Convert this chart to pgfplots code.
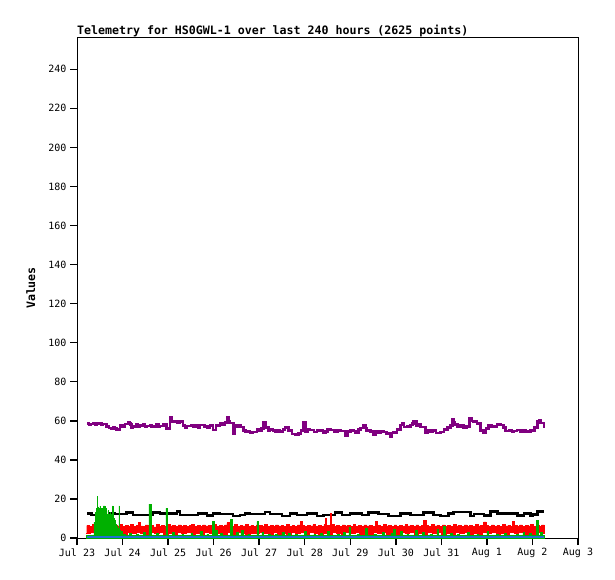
\documentclass[border=0pt]{standalone}
\usepackage{pgfplots}
\pgfplotsset{compat=1.18}
\usepackage{fontspec}
\setmainfont{DejaVu Sans Mono}
\definecolor{cpurple}{RGB}{128,0,128}
\definecolor{cred}{RGB}{255,0,0}
\definecolor{cgreen}{RGB}{0,176,0}
\definecolor{cblue}{RGB}{32,112,208}
\begin{document}
\begin{tikzpicture}
\begin{axis}[
  at={(77pt,41pt)}, anchor=south west,
  scale only axis, width=501pt, height=500pt,
  xmin=0, xmax=11, ymin=0, ymax=256,
  axis line style={line width=1pt},
  xtick={0,1,2,3,4,5,6,7,8,9,10,11},
  xticklabels={Jul 23,Jul 24,Jul 25,Jul 26,Jul 27,Jul 28,Jul 29,Jul 30,Jul 31,Aug 1,Aug 2,Aug 3},
  ytick={0,20,40,60,80,100,120,140,160,180,200,220,240},
  tick pos=left, tick align=outside,
  major tick length=7pt,
  xtick style={draw=black, line width=1.4pt},
  ytick style={draw=black, line width=1.4pt},
  /pgf/number format/assume math mode=true,
  tick label style={font=\fontsize{10}{12}\selectfont},
  title={Telemetry for HS0GWL-1 over last 240 hours (2625 points)},
  title style={at={(axis description cs:0,1)}, anchor=base west, yshift=-3pt, font=\fontsize{11.6}{13}\selectfont\bfseries, inner sep=0pt},
  ylabel={Values},
  every axis y label/.style={at={(axis description cs:-0.092,0.5)}, rotate=90, anchor=center, font=\fontsize{11.6}{13}\selectfont\bfseries},
]
% black
\addplot[const plot, black, line width=2.4pt] coordinates {
(0.22,12.6) (0.32,11.8) (0.43,12.3) (0.59,11.8) (0.72,12.6) (0.83,12.3) (1.09,13.0) (1.23,11.9) (1.67,13.0) (1.82,12.6) (2.19,13.6) (2.26,11.8) (2.66,12.6) (2.85,11.6) (2.99,12.6) (3.14,12.3) (3.43,11.3) (3.58,11.8) (3.69,12.6) (3.80,12.3) (4.13,13.3) (4.24,12.3) (4.50,11.4) (4.68,12.6) (4.83,11.9) (5.05,12.6) (5.27,11.4) (5.41,11.9) (5.67,13.0) (5.82,11.8) (6.00,12.6) (6.26,11.9) (6.40,13.0) (6.62,12.3) (6.84,11.3) (7.10,12.6) (7.32,11.9) (7.61,13.0) (7.83,11.9) (7.98,11.3) (8.16,12.6) (8.27,13.3) (8.64,11.3) (8.71,12.3) (8.93,11.6) (9.08,13.6) (9.23,12.6) (9.67,11.6) (9.81,12.6) (9.96,11.2) (10.00,12.1) (10.11,13.6) (10.25,13.6)
};
% purple
\addplot[const plot, cpurple, line width=2.6pt] coordinates {
(0.22,58.7) (0.26,58.0) (0.30,58.4) (0.36,58.9) (0.40,58.2) (0.43,58.6) (0.50,58.8) (0.54,58.0) (0.57,58.3) (0.65,57.0) (0.70,56.3) (0.76,55.8) (0.79,56.6) (0.82,56.0) (0.87,55.6) (0.94,57.8) (1.00,57.2) (1.05,58.3) (1.12,59.3) (1.15,58.6) (1.17,58.0) (1.20,56.5) (1.23,57.0) (1.30,58.0) (1.34,57.0) (1.38,57.5) (1.45,58.2) (1.49,56.9) (1.52,57.3) (1.60,57.8) (1.64,56.8) (1.68,57.0) (1.75,58.0) (1.79,57.0) (1.82,57.4) (1.90,58.4) (1.97,56.0) (2.04,61.8) (2.08,59.5) (2.15,59.8) (2.20,59.0) (2.26,59.5) (2.33,57.5) (2.37,56.6) (2.41,57.3) (2.50,57.8) (2.56,57.0) (2.63,57.5) (2.67,56.5) (2.70,57.8) (2.80,57.2) (2.86,56.6) (2.92,57.5) (2.99,55.3) (3.05,57.5) (3.14,58.5) (3.20,58.0) (3.25,59.0) (3.30,61.8) (3.33,60.0) (3.36,58.8) (3.43,53.5) (3.46,57.5) (3.50,56.8) (3.54,57.5) (3.60,56.8) (3.65,55.0) (3.70,54.5) (3.76,54.6) (3.80,53.8) (3.85,54.2) (3.95,55.5) (4.00,54.8) (4.05,56.0) (4.09,59.0) (4.14,56.5) (4.20,55.0) (4.24,55.5) (4.30,55.0) (4.35,54.2) (4.39,55.3) (4.45,54.5) (4.52,55.5) (4.57,56.5) (4.65,55.0) (4.72,53.2) (4.80,52.8) (4.86,53.5) (4.92,55.0) (4.97,59.0) (5.02,54.5) (5.06,55.8) (5.12,55.2) (5.20,54.2) (5.27,55.0) (5.34,55.0) (5.40,54.0) (5.45,54.5) (5.50,55.5) (5.56,55.3) (5.65,54.4) (5.72,55.2) (5.78,54.8) (5.89,52.6) (5.95,54.5) (6.01,55.2) (6.07,54.8) (6.12,54.0) (6.18,55.5) (6.23,56.4) (6.29,57.8) (6.33,56.3) (6.36,55.0) (6.44,54.6) (6.51,52.8) (6.56,54.5) (6.60,54.0) (6.67,54.8) (6.73,54.2) (6.80,53.5) (6.88,51.8) (6.92,53.8) (6.95,54.0) (7.03,55.5) (7.10,57.8) (7.14,58.8) (7.18,56.8) (7.25,57.0) (7.32,57.8) (7.36,58.5) (7.39,59.5) (7.46,57.5) (7.50,58.4) (7.54,56.8) (7.65,54.0) (7.70,55.0) (7.76,54.2) (7.82,55.0) (7.88,53.8) (7.98,54.2) (8.06,55.5) (8.13,56.7) (8.20,57.5) (8.24,61.0) (8.27,59.0) (8.30,58.0) (8.35,57.0) (8.42,57.8) (8.49,56.3) (8.55,57.0) (8.62,61.4) (8.66,60.0) (8.71,59.6) (8.78,58.5) (8.86,55.0) (8.93,54.0) (8.98,56.0) (9.04,57.8) (9.10,56.8) (9.15,57.0) (9.22,58.2) (9.30,57.8) (9.36,56.5) (9.41,54.8) (9.50,55.0) (9.55,54.2) (9.59,54.8) (9.66,55.2) (9.74,54.2) (9.80,54.9) (9.85,54.5) (9.96,55.0) (10.05,56.5) (10.11,59.5) (10.15,60.3) (10.18,58.8) (10.25,56.3)
};
% red band: upper envelope then lower envelope back
\addplot[const plot, cred, fill=cred, line width=0.6pt] coordinates {
(0.21,6.4) (0.28,5.8) (0.34,6.9) (0.40,6.1) (0.46,6.7) (0.52,5.7) (0.58,6.6) (0.64,6.0) (0.70,6.9) (0.76,5.9) (0.82,6.5) (0.88,6.2) (0.94,7.0) (1.00,5.8) (1.06,6.4) (1.12,6.1) (1.18,6.8) (1.24,5.9) (1.30,6.3) (1.34,7.8) (1.38,6.2) (1.44,5.8) (1.50,6.7) (1.56,6.0) (1.62,6.5) (1.68,5.7) (1.74,6.8) (1.80,6.1) (1.86,6.6) (1.92,5.8) (1.98,6.9) (2.04,6.2) (2.10,6.5) (2.16,5.9) (2.22,6.7) (2.28,6.0) (2.34,6.6) (2.40,5.8) (2.46,6.4) (2.52,6.9) (2.58,6.1) (2.64,6.5) (2.70,5.8) (2.76,6.7) (2.82,6.2) (2.88,6.6) (2.94,5.9) (3.00,6.8) (3.06,6.1) (3.12,6.4) (3.18,5.8) (3.24,6.7) (3.29,7.8) (3.34,6.3) (3.40,6.0) (3.46,6.8) (3.52,5.9) (3.58,6.5) (3.64,6.2) (3.70,6.9) (3.76,5.8) (3.82,6.6) (3.88,6.0) (3.94,6.7) (4.00,6.3) (4.06,5.9) (4.12,6.8) (4.18,6.1) (4.24,6.5) (4.30,5.8) (4.36,6.7) (4.42,6.2) (4.48,6.6) (4.54,5.9) (4.60,6.9) (4.66,6.1) (4.72,6.4) (4.78,6.0) (4.84,6.7) (4.90,8.5) (4.94,6.3) (5.00,5.9) (5.06,6.6) (5.12,6.2) (5.18,6.8) (5.24,5.9) (5.30,6.5) (5.36,6.1) (5.42,6.9) (5.45,10.0) (5.48,6.4) (5.53,6.2) (5.56,12.5) (5.58,6.8) (5.64,6.0) (5.70,6.5) (5.76,5.8) (5.82,6.7) (5.88,6.2) (5.94,6.6) (6.00,5.9) (6.06,6.8) (6.12,6.1) (6.18,6.4) (6.24,5.8) (6.30,6.7) (6.36,6.2) (6.42,6.6) (6.48,5.9) (6.55,8.5) (6.60,6.3) (6.66,6.0) (6.72,6.8) (6.78,6.2) (6.84,6.5) (6.90,5.9) (6.96,6.7) (7.02,6.1) (7.08,6.6) (7.14,5.9) (7.20,6.8) (7.26,6.2) (7.32,6.5) (7.38,5.8) (7.44,6.7) (7.50,6.1) (7.56,6.6) (7.61,8.9) (7.66,6.3) (7.72,6.0) (7.78,6.8) (7.84,6.2) (7.90,6.5) (7.96,5.9) (8.02,6.7) (8.08,6.1) (8.14,6.6) (8.20,5.9) (8.26,6.8) (8.32,6.2) (8.38,6.5) (8.44,5.8) (8.50,6.7) (8.56,6.1) (8.62,6.6) (8.68,6.0) (8.74,6.9) (8.80,6.2) (8.86,6.5) (8.93,8.2) (8.98,6.3) (9.04,5.9) (9.10,6.7) (9.16,6.1) (9.22,6.6) (9.28,5.9) (9.34,6.8) (9.40,6.2) (9.46,6.5) (9.52,6.0) (9.56,8.3) (9.60,6.4) (9.66,6.1) (9.72,6.7) (9.78,5.9) (9.84,6.6) (9.90,6.2) (9.96,6.8) (10.02,6.0) (10.08,6.5) (10.14,6.1) (10.20,6.7) (10.26,6.3)
(10.26,2.3) (10.20,2.7) (10.10,1.9) (10.00,2.6) (9.90,2.1) (9.80,3.0) (9.70,2.2) (9.60,2.7) (9.50,1.8) (9.40,2.6) (9.30,2.1) (9.20,2.9) (9.10,2.3) (9.00,2.8) (8.90,1.8) (8.80,2.6) (8.70,2.0) (8.60,2.9) (8.50,2.2) (8.40,2.7) (8.30,1.8) (8.20,2.6) (8.10,2.1) (8.00,3.0) (7.90,2.3) (7.80,2.8) (7.70,1.7) (7.60,2.6) (7.50,2.0) (7.40,2.9) (7.30,2.2) (7.20,2.8) (7.10,1.8) (7.00,2.6) (6.90,2.1) (6.80,3.0) (6.70,2.3) (6.60,2.7) (6.50,1.8) (6.40,2.6) (6.30,2.0) (6.20,2.9) (6.10,2.2) (6.00,2.8) (5.90,1.9) (5.80,2.4) (5.70,3.0) (5.60,2.1) (5.50,2.6) (5.40,1.7) (5.30,2.2) (5.20,2.8) (5.10,2.0) (5.00,2.7) (4.90,2.3) (4.80,2.9) (4.70,1.8) (4.60,2.6) (4.50,2.1) (4.40,2.8) (4.30,1.9) (4.20,2.4) (4.10,3.0) (4.00,2.2) (3.90,2.6) (3.80,1.7) (3.70,2.3) (3.60,2.9) (3.50,2.1) (3.40,2.7) (3.30,1.8) (3.20,2.4) (3.10,3.0) (3.00,2.2) (2.90,2.7) (2.80,1.8) (2.70,2.6) (2.60,2.1) (2.50,3.0) (2.40,2.3) (2.30,2.8) (2.20,1.7) (2.10,2.6) (2.00,2.0) (1.90,2.9) (1.80,2.2) (1.70,2.8) (1.60,1.8) (1.50,2.4) (1.40,3.1) (1.30,2.2) (1.20,2.7) (1.10,1.7) (1.00,2.3) (0.90,3.0) (0.80,2.1) (0.70,2.6) (0.60,1.8) (0.50,2.4) (0.40,3.0) (0.30,2.2) (0.21,2.8)
};
% green
\addplot[const plot, cgreen, fill=cgreen, line width=0.5pt] coordinates {
(0.21,1.3) (0.30,1.5) (0.35,1.4) (0.37,8) (0.38,5) (0.40,13) (0.41,10) (0.42,15) (0.43,12) (0.44,21.5) (0.45,11) (0.46,16) (0.47,9) (0.48,15) (0.49,12) (0.50,16.4) (0.51,10) (0.52,14) (0.53,11) (0.54,15) (0.55,9) (0.56,13) (0.57,10) (0.58,16.4) (0.59,12) (0.60,16.4) (0.61,9) (0.62,13) (0.63,11) (0.64,15) (0.65,8) (0.66,12) (0.67,10) (0.68,14) (0.69,7) (0.70,12) (0.71,9) (0.72,13) (0.73,8) (0.74,11) (0.75,7) (0.76,12) (0.77,9) (0.78,16.4) (0.79,7) (0.80,10) (0.81,6) (0.82,9) (0.83,5) (0.84,8) (0.85,4) (0.86,7) (0.87,4) (0.88,6) (0.89,3.5) (0.90,5) (0.91,3) (0.92,16.4) (0.93,3) (0.94,4) (0.96,2.5) (0.98,3.5) (1.00,2) (1.02,1.7) (1.05,1.4)
(1.15,2.5) (1.19,1.4) (1.30,2.0) (1.34,1.3) (1.45,3.0) (1.49,1.5) (1.58,17.4) (1.62,1.4) (1.75,2.5) (1.79,1.4) (1.95,15.2) (1.99,1.3) (2.10,3) (2.14,1.5) (2.30,2) (2.34,1.4) (2.50,2.5) (2.54,1.4) (2.70,3.5) (2.74,1.3) (2.85,2) (2.89,1.5) (2.97,8.4) (3.01,1.4) (3.03,4) (3.07,1.4) (3.15,2.5) (3.19,1.3) (3.37,9.4) (3.41,1.5) (3.50,3) (3.54,1.4) (3.60,4) (3.64,1.4) (3.75,2) (3.79,1.3) (3.95,8.4) (3.99,1.5) (4.06,3) (4.10,1.4) (4.20,2) (4.24,1.4) (4.35,2) (4.39,1.3) (4.50,3) (4.54,1.5) (4.64,2.5) (4.68,1.4) (4.80,2) (4.84,1.4) (5.00,3.5) (5.04,1.3) (5.20,2) (5.24,1.5) (5.35,2.5) (5.39,1.4) (5.50,3.5) (5.54,1.4) (5.72,2) (5.76,1.3) (5.85,3) (5.89,1.5) (5.97,5.6) (6.01,1.4) (6.15,2) (6.19,1.4) (6.33,4.9) (6.37,1.3) (6.52,2) (6.56,1.5) (6.70,3) (6.74,1.4) (6.89,2.5) (6.93,1.4) (6.95,4.4) (6.99,1.3) (7.10,3.5) (7.14,1.5) (7.24,2) (7.28,1.4) (7.43,4) (7.47,1.4) (7.58,3) (7.62,1.3) (7.75,2) (7.79,1.5) (7.90,4.4) (7.94,1.4) (8.05,5.8) (8.09,1.4) (8.20,2.5) (8.24,1.3) (8.35,2) (8.39,1.5) (8.57,3) (8.61,1.4) (8.78,2) (8.82,1.4) (9.00,3.5) (9.04,1.3) (9.20,2) (9.24,1.5) (9.39,2.5) (9.43,1.4) (9.64,2) (9.68,1.4) (9.79,3) (9.83,1.3) (9.93,2.5) (9.97,1.5) (10.08,9.2) (10.12,1.4) (10.17,3) (10.21,1.4) (10.26,1.4)
} \closedcycle;
% blue
\addplot[cblue, line width=2pt] coordinates {(0.21,0.3) (10.26,0.3)};
\end{axis}
\path (0,0) rectangle (615pt,579pt);
\end{tikzpicture}
\end{document}
